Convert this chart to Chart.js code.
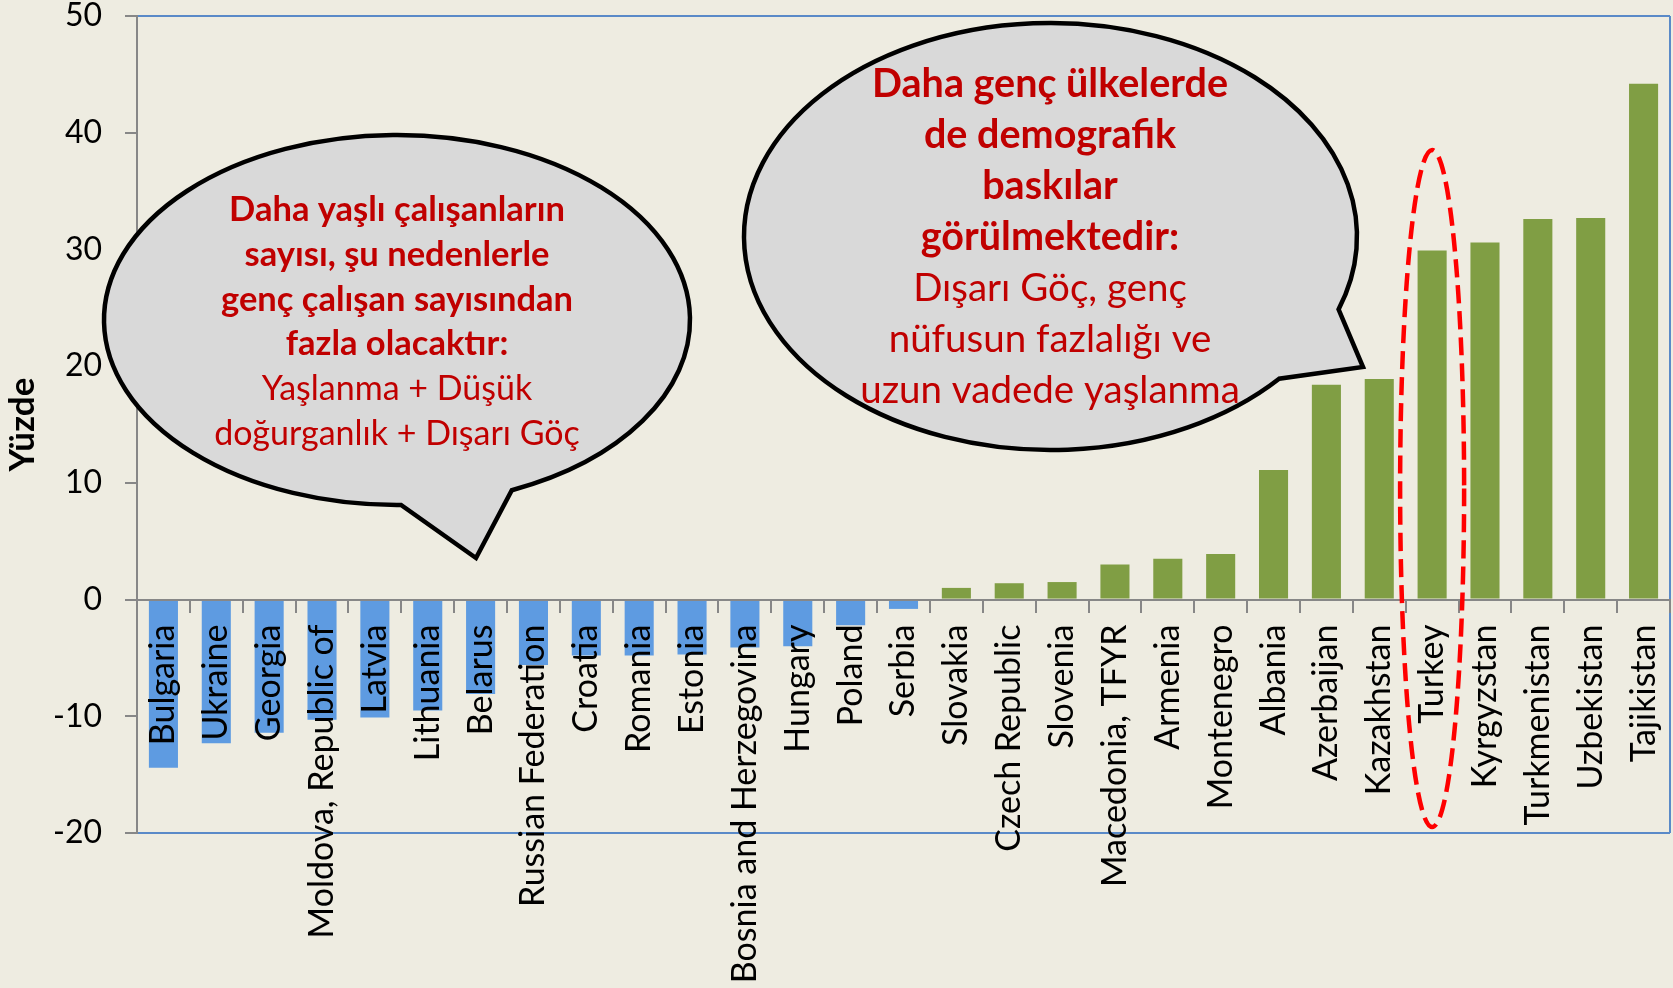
<!DOCTYPE html>
<html><head><meta charset="utf-8">
<script src="https://cdn.jsdelivr.net/npm/chart.js@4.4.1/dist/chart.umd.min.js"></script>
<style>html,body{margin:0;padding:0;background:#EEECE1;}canvas{display:block;}</style>
</head><body>
<canvas id="c" width="1673" height="988"></canvas>
<script>
// ---- data ----
const categories = ["Bulgaria","Ukraine","Georgia","Moldova, Republic of","Latvia","Lithuania","Belarus","Russian Federation","Croatia","Romania","Estonia","Bosnia and Herzegovina","Hungary","Poland","Serbia","Slovakia","Czech Republic","Slovenia","Macedonia, TFYR","Armenia","Montenegro","Albania","Azerbaijan","Kazakhstan","Turkey","Kyrgyzstan","Turkmenistan","Uzbekistan","Tajikistan"];
const values = [-14.4,-12.3,-11.4,-10.3,-10.1,-9.5,-8.1,-5.6,-4.8,-4.8,-4.7,-4.1,-4.0,-2.2,-0.8,1.0,1.4,1.5,3.0,3.5,3.9,11.1,18.4,18.9,29.9,30.6,32.6,32.7,44.2];
const yTicks = [-20,-10,0,10,20,30,40,50];
const yAxisTitle = "Yüzde";
const highlightCategory = "Turkey";
const leftBubbleLines = [
  ["Daha yaşlı çalışanların", true],
  ["sayısı, şu nedenlerle", true],
  ["genç çalışan sayısından", true],
  ["fazla olacaktır:", true],
  ["Yaşlanma + Düşük", false],
  ["doğurganlık + Dışarı Göç", false]
];
const rightBubbleLines = [
  ["Daha genç ülkelerde", true],
  ["de demografik", true],
  ["baskılar", true],
  ["görülmektedir:", true],
  ["Dışarı Göç, genç", false],
  ["nüfusun fazlalığı ve", false],
  ["uzun vadede yaşlanma", false]
];

// ---- styles ----
const FONT = 'Lato, "Open Sans", sans-serif';
const BLUE_BAR = '#5E9BE1';
const GREEN_BAR = '#809E44';
const FRAME_BLUE = '#5A8AC8';
const AXIS_GRAY = '#878787';
const TEXT_RED = '#C00000';

Chart.defaults.font.family = FONT;
Chart.defaults.color = '#000';

const decorations = {
  id: 'decorations',
  beforeDatasetsDraw(chart) {
    const {ctx, chartArea} = chart;
    ctx.save();
    ctx.strokeStyle = FRAME_BLUE;
    ctx.lineWidth = 2;
    ctx.beginPath();
    ctx.moveTo(chartArea.right, chartArea.top);
    ctx.lineTo(chartArea.right, chartArea.bottom);
    ctx.stroke();
    ctx.restore();
  },
  afterDraw(chart) {
    const {ctx} = chart;
    const bubble = (cx, cy, rx, ry, b1, tip, b2) => {
      const a1 = Math.atan2((b1[1]-cy)/ry, (b1[0]-cx)/rx);
      const a2 = Math.atan2((b2[1]-cy)/ry, (b2[0]-cx)/rx);
      ctx.beginPath();
      ctx.ellipse(cx, cy, rx, ry, 0, a1, a2, false);
      ctx.lineTo(tip[0], tip[1]);
      ctx.closePath();
      ctx.fillStyle = '#D9D9D9';
      ctx.fill();
      ctx.lineWidth = 4.5;
      ctx.lineJoin = 'miter';
      ctx.strokeStyle = '#000';
      ctx.stroke();
    };
    const lines = (arr, cx, y0, dy, bsize, rsize) => {
      ctx.fillStyle = TEXT_RED;
      ctx.textAlign = 'center';
      ctx.textBaseline = 'alphabetic';
      arr.forEach(([t, bold], i) => {
        ctx.font = (bold ? 'bold ' : '') + (bold ? bsize : rsize) + 'px ' + FONT;
        ctx.fillText(t, cx, y0 + i*dy);
      });
    };
    ctx.save();
    bubble(397, 320, 293, 185, [401, 503], [476, 558], [511, 489]);
    lines(leftBubbleLines, 397, 221, 44.8, 34.5, 34);
    bubble(1050.5, 236.5, 306.5, 213.5, [1278, 378], [1363, 367], [1337, 309]);
    lines(rightBubbleLines, 1050, 97, 51, 39.5, 38.5);
    // dashed ellipse around highlighted category
    const xs = chart.scales.x;
    const hx = xs.getPixelForValue(categories.indexOf(highlightCategory));
    ctx.beginPath();
    ctx.setLineDash([18, 8]);
    ctx.lineWidth = 4.5;
    ctx.strokeStyle = '#FF0000';
    ctx.ellipse(hx, 488.5, 32, 338.5, 0, 0, Math.PI*2);
    ctx.stroke();
    ctx.restore();
  }
};

new Chart(document.getElementById('c'), {
  type: 'bar',
  data: {
    labels: categories,
    datasets: [{
      data: values,
      backgroundColor: values.map(v => v < 0 ? BLUE_BAR : GREEN_BAR),
      barPercentage: 0.55,
      categoryPercentage: 1
    }]
  },
  options: {
    responsive: false,
    animation: false,
    devicePixelRatio: 1,
    layout: {padding: {left: 0, right: 3, top: 16, bottom: 155}},
    plugins: {legend: {display: false}, tooltip: {enabled: false}},
    scales: {
      x: {
        position: {y: 0},
        offset: true,
        grid: {display: true, drawOnChartArea: false, drawTicks: true, tickLength: 12, color: AXIS_GRAY, lineWidth: 2, offset: true, z: 1},
        border: {display: true, color: AXIS_GRAY, width: 2, z: 1},
        ticks: {z: 1, autoSkip: false, minRotation: 90, maxRotation: 90, padding: 13, color: '#000', font: {size: 34, family: FONT}},
        afterFit(scale) { scale.height = 155; scale.paddingLeft = 0; scale.paddingRight = 0; }
      },
      y: {
        min: -20, max: 50,
        afterBuildTicks(scale) { scale.ticks = yTicks.map(v => ({value: v})); },
        grid: {
          drawOnChartArea: true, drawTicks: true, tickLength: 12, lineWidth: 2,
          color: (c) => (c.tick && (c.tick.value === 50 || c.tick.value === -20)) ? FRAME_BLUE : 'rgba(0,0,0,0)',
          tickColor: AXIS_GRAY
        },
        border: {display: true, color: AXIS_GRAY, width: 2},
        ticks: {padding: 23, color: '#000', font: {size: 32, family: FONT, lineHeight: 1}},
        title: {display: true, text: yAxisTitle, color: '#000', font: {size: 35, weight: 'bold', family: FONT}, padding: {top: 2, bottom: 0}},
        afterFit(scale) { scale.width = 137; scale.paddingTop = 0; scale.paddingBottom = 0; }
      }
    }
  },
  plugins: [decorations]
});
</script>
</body></html>
